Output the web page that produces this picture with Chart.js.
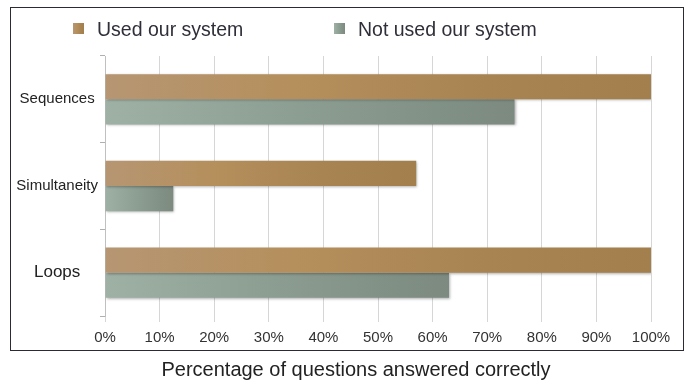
<!DOCTYPE html>
<html>
<head>
<meta charset="utf-8">
<style>
  html, body { margin: 0; padding: 0; background: #ffffff; }
  #wrap { width: 691px; height: 382px; position: relative; }
</style>
<script src="https://cdn.jsdelivr.net/npm/chart.js@4.4.1/dist/chart.umd.min.js"></script>
</head>
<body>
<div id="wrap"><canvas id="quizChart" width="691" height="382"></canvas></div>
<script>
// Chart data
const categories = ['Sequences', 'Simultaneity', 'Loops'];
const seriesLabels = ['Used our system', 'Not used our system'];
const usedSystem = [100, 57, 100];
const notUsedSystem = [75, 12.5, 63];
const xTickStep = 10;
const axisTitle = 'Percentage of questions answered correctly';

const FONT = "'Liberation Sans', Arial, Helvetica, sans-serif";

// gradient stops for each series (left -> right along the bar)
const orangeStops = [[0, '#b69673'], [0.35, '#b58f5c'], [0.7, '#a88453'], [1, '#a47f4e']];
const greenStops = [[0, '#9fb0a5'], [0.45, '#8d9e92'], [1, '#7c8a80']];

function barGradient(stops) {
  return (context) => {
    const chart = context.chart;
    const x = chart.scales.x;
    if (!chart.chartArea || !x || context.type !== 'data') return stops[1][1];
    const x0 = x.getPixelForValue(0);
    const x1 = x.getPixelForValue(context.raw);
    if (x1 - x0 < 2) return stops[1][1];
    const g = chart.ctx.createLinearGradient(x0, 0, x1, 0);
    stops.forEach(s => g.addColorStop(s[0], s[1]));
    return g;
  };
}

// frame, legend and caption drawn around the plot
const decorPlugin = {
  id: 'decor',
  beforeDatasetsDraw(chart) {
    const ctx = chart.ctx;
    ctx.save();
    ctx.shadowColor = 'rgba(0,0,0,0.3)';
    ctx.shadowBlur = 2.5;
    ctx.shadowOffsetX = 1;
    ctx.shadowOffsetY = 1;
  },
  afterDatasetsDraw(chart) {
    chart.ctx.restore();
  },
  afterDraw(chart) {
    const ctx = chart.ctx;
    ctx.save();
    // outer frame
    ctx.strokeStyle = '#2b2b33';
    ctx.lineWidth = 1;
    ctx.strokeRect(10.5, 7.5, 673, 343);

    // legend
    const boxX = [73, 334];
    const stopsList = [orangeStops, greenStops];
    ctx.font = '19.5px ' + FONT;
    ctx.textBaseline = 'alphabetic';
    ctx.textAlign = 'left';
    chart.data.datasets.forEach((ds, i) => {
      const bx = boxX[i];
      const g = ctx.createLinearGradient(bx, 0, bx + 11, 0);
      stopsList[i].forEach(s => g.addColorStop(s[0], s[1]));
      ctx.fillStyle = g;
      ctx.fillRect(bx, 23, 11, 11);
      ctx.fillStyle = '#2f2f3a';
      ctx.fillText(ds.label, bx + 24, 35.5);
    });

    // caption under the frame
    ctx.font = '20px ' + FONT;
    ctx.fillStyle = '#222222';
    ctx.textAlign = 'center';
    ctx.fillText(axisTitle, 356, 376);
    ctx.restore();
  }
};

const ctx = document.getElementById('quizChart').getContext('2d');
new Chart(ctx, {
  type: 'bar',
  data: {
    labels: categories,
    datasets: [
      {
        label: seriesLabels[0],
        data: usedSystem,
        backgroundColor: barGradient(orangeStops),
        borderWidth: 0,
        categoryPercentage: 0.58,
        barPercentage: 1.0
      },
      {
        label: seriesLabels[1],
        data: notUsedSystem,
        backgroundColor: barGradient(greenStops),
        borderWidth: 0,
        categoryPercentage: 0.58,
        barPercentage: 1.0
      }
    ]
  },
  plugins: [decorPlugin],
  options: {
    responsive: false,
    animation: false,
    indexAxis: 'y',
    layout: { padding: { top: 56, bottom: 36, left: 0, right: 40 } },
    plugins: {
      legend: { display: false },
      tooltip: { enabled: false }
    },
    scales: {
      x: {
        min: 0,
        max: 100,
        ticks: {
          stepSize: xTickStep,
          padding: 7,
          color: '#333333',
          font: { family: FONT, size: 15 },
          callback: (v) => v + '%'
        },
        grid: { color: '#d6d6d6', lineWidth: 1, tickLength: 6, drawTicks: true },
        border: { display: false },
        afterFit: (scale) => { scale.height = 30; }
      },
      y: {
        ticks: {
          crossAlign: 'center',
          padding: 2,
          color: '#222222',
          font: (c) => ({ family: FONT, size: c.index === 2 ? 17 : 15 })
        },
        grid: { drawOnChartArea: false, drawTicks: true, tickLength: 5, color: '#b0b0b0' },
        border: { display: true, color: '#c0c0c0' },
        afterFit: (scale) => { scale.width = 105; }
      }
    }
  }
});
</script>
</body>
</html>
